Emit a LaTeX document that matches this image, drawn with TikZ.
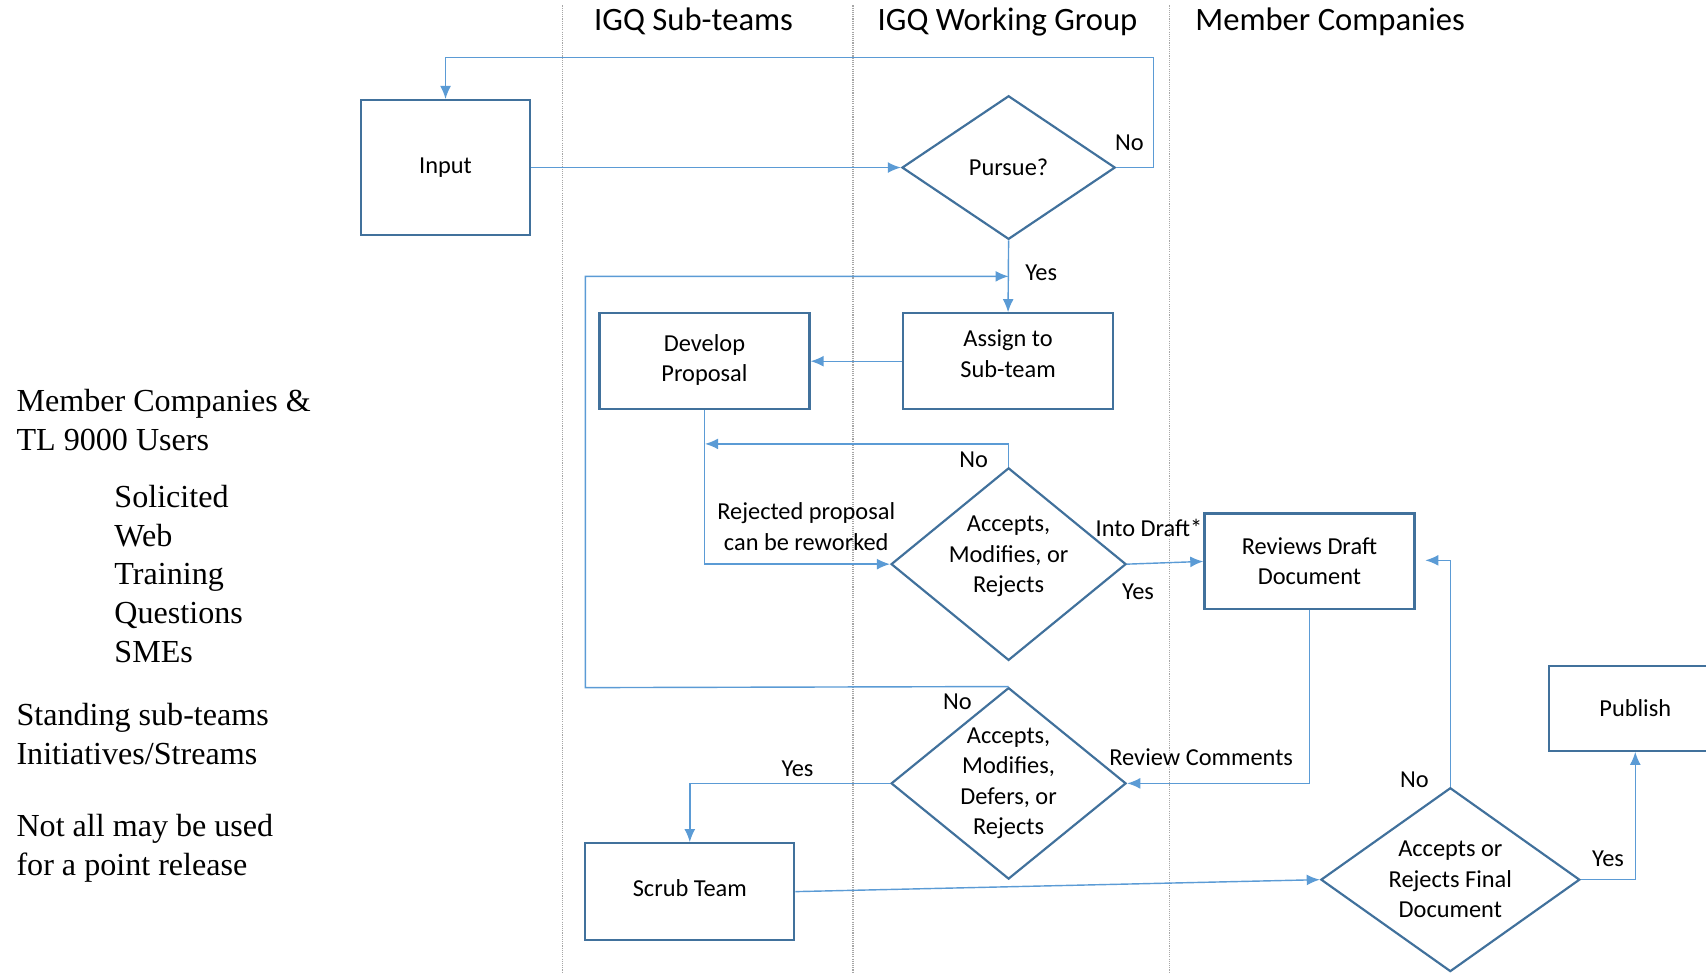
\documentclass[tikz,border=0pt]{standalone}
\usepackage{fontspec}
\setmainfont{Carlito}
\newfontfamily\timesfont{Liberation Serif}
\usetikzlibrary{shapes.geometric,arrows.meta}
\definecolor{boxblue}{HTML}{41719C}
\definecolor{lineblue}{HTML}{5B9BD5}
\begin{document}
\begin{tikzpicture}[x=1pt,y=-1pt,
  box/.style={draw=boxblue,line width=2pt,inner sep=0pt,align=center,font=\fontsize{22.4}{28}\selectfont},
  decision/.style={diamond,draw=boxblue,line width=2pt,inner sep=-6pt,align=center,font=\fontsize{22.4}{28}\selectfont},
  flow/.style={draw=lineblue,line width=1.3pt,-{Latex[length=12pt,width=10pt]}},
  lane/.style={draw=gray!70,line width=1pt,densely dotted},
  lbl/.style={font=\fontsize{22.4}{28}\selectfont,inner sep=0pt,align=center},
  head/.style={font=\fontsize{30}{36}\selectfont,inner sep=0pt},
  side/.style={font=\timesfont\fontsize{29.5}{35.5}\selectfont,align=left,inner sep=0pt,anchor=west}]
\useasboundingbox (0,0) rectangle (1568,894);
\clip (0,0) rectangle (1568,894);
\foreach \lx in {517,784,1075} \draw[lane] (\lx,5) -- (\lx,894);
\node[head] (hsub) at (637.5,20) {IGQ Sub-teams};
\node[head] (hwg) at (926,20) {IGQ Working Group};
\node[head] (hmem) at (1222.5,20) {Member Companies};

\node[side] (members) at (15,386) {Member Companies \&\\TL 9000 Users};
\node[side] (channels) at (105,527.5) {Solicited\\Web\\Training\\Questions\\SMEs};
\node[side] (standing) at (15,674.5) {Standing sub-teams\\Initiatives/Streams};
\node[side] (note) at (15,779.5) {Not all may be used\\for a point release};

\node[box,minimum width=155pt,minimum height=124pt] (input) at (409.5,154) {Input};
\node[decision,minimum width=196pt,minimum height=132pt] (pursue) at (927,154) {Pursue?};
\node[box,minimum width=193pt,minimum height=88pt,text depth=14pt] (assign) at (926.5,332) {Assign to\\Sub-team};
\node[box,minimum width=193pt,minimum height=88pt,text depth=6pt] (develop) at (647.5,332) {Develop\\Proposal};
\node[decision,minimum width=216pt,minimum height=177pt,text depth=18pt] (dec2) at (927,518.5) {Accepts,\\Modifies, or\\Rejects};
\node[box,minimum width=193pt,minimum height=88pt] (reviews) at (1203.5,516) {Reviews Draft\\Document};
\node[decision,minimum width=216pt,minimum height=176pt] (dec3) at (927,720) {Accepts,\\Modifies,\\Defers, or\\Rejects};
\node[box,minimum width=192pt,minimum height=89pt,text depth=6pt] (scrub) at (634,819.5) {Scrub Team};
\node[decision,minimum width=238pt,minimum height=169pt] (dec4) at (1333,808.5) {Accepts or\\Rejects Final\\Document};
\node[box,minimum width=158pt,minimum height=78pt] (publish) at (1503,651) {Publish};

\coordinate (topturn) at (1060,53);
\coordinate (merge) at (927,254);
\coordinate (loopcorner) at (538,632);
\coordinate (rework) at (648,408);
\coordinate (redo) at (1310,515);

\draw[flow] (input) -- (pursue);
\draw[flow] (pursue.east) -| (topturn) -| (input.north);
\draw[flow] (pursue.south) -- (assign.north);
\draw[flow] (dec3.north) -- (loopcorner) |- (merge);
\draw[flow] (assign.west) -- (develop.east);
\draw[flow] (develop.south) |- (dec2.west);
\draw[flow] (dec2.north) |- (rework);
\draw[flow] (dec2.east) -- (reviews.west);
\draw[flow] (reviews.south) |- (dec3.east);
\draw[flow] (dec3.west) -| (scrub.north);
\draw[flow] (scrub.east) -- (dec4.west);
\draw[flow] (dec4.north) |- (redo);
\draw[flow] (dec4.east) -| (publish.south);

\node[lbl] (nopursue) at (1038,131) {No};
\node[lbl] (yespursue) at (957,251) {Yes};
\node[lbl] (nodec2) at (895,423) {No};
\node[lbl] (reworked) at (741,484) {Rejected proposal\\can be reworked};
\node[lbl] (intodraft) at (1056,485) {Into Draft*};
\node[lbl] (yesdec2) at (1046,544) {Yes};
\node[lbl] (nodec3) at (880,645) {No};
\node[lbl] (comments) at (1104,696) {Review Comments};
\node[lbl] (yesdec3) at (733,707) {Yes};
\node[lbl] (nodec4) at (1300,717) {No};
\node[lbl] (yesdec4) at (1478,789) {Yes};
\end{tikzpicture}
\end{document}
